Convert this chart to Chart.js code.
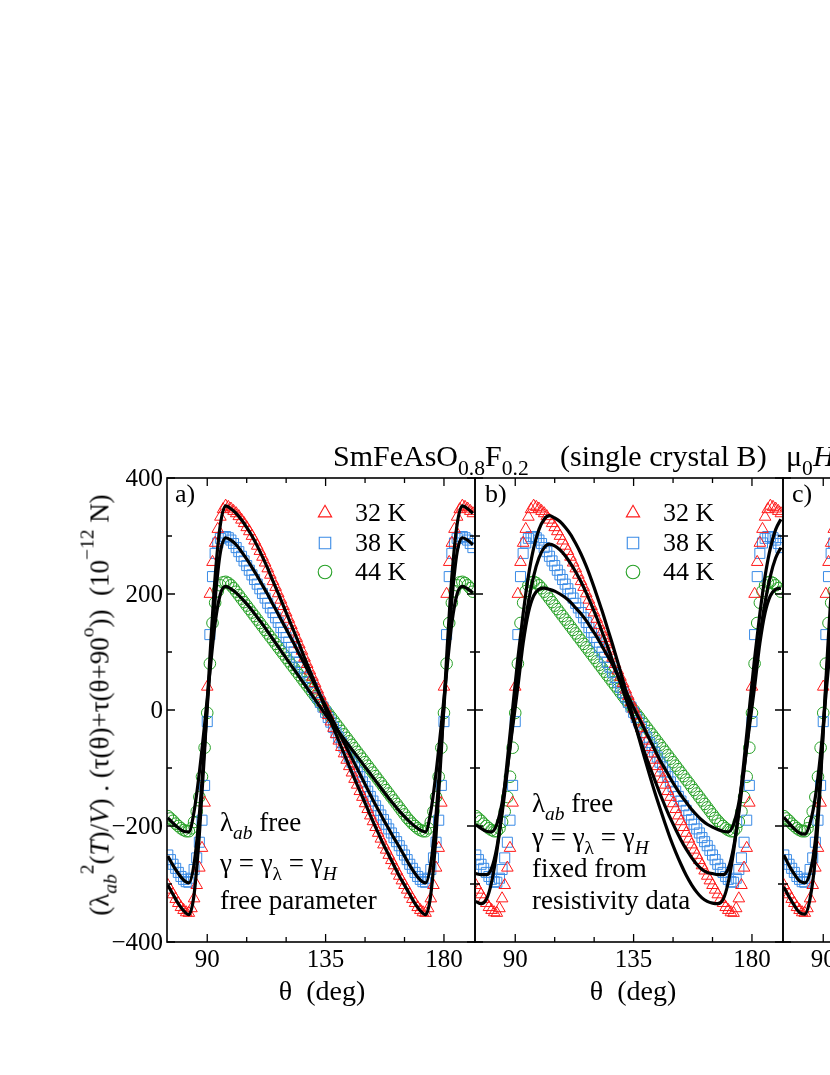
<!DOCTYPE html>
<html>
<head>
<meta charset="utf-8">
<script src="https://cdn.jsdelivr.net/npm/chart.js@4.4.1/dist/chart.umd.min.js"></script>
<style>
  html, body { margin: 0; padding: 0; background: #fff; }
  body { width: 830px; height: 1075px; position: relative; overflow: hidden;
         font-family: "Liberation Serif", "Times New Roman", serif; color: #000; }
  canvas { position: absolute; }
  .t { position: absolute; white-space: nowrap; line-height: 1; }
  .t sub { font-size: 72%; vertical-align: -0.4em; line-height: 0; }
  .t sup { font-size: 72%; vertical-align: 0.75em; line-height: 0; }
  .c { transform: translateX(-50%); }
</style>
</head>
<body>
<canvas id="panelA" width="375" height="530" style="left:110px;top:458px"></canvas>
<canvas id="panelB" width="328" height="530" style="left:465px;top:458px"></canvas>
<canvas id="panelC" width="328" height="530" style="left:773px;top:458px"></canvas>

<div class="t" style="left:333px;top:441px;font-size:30px">SmFeAsO<sub>0.8</sub>F<sub>0.2</sub></div>
<div class="t" style="left:560px;top:441px;font-size:30px">(single crystal B)</div>
<div class="t" style="left:786px;top:441px;font-size:30px">μ<sub>0</sub><i>H</i></div>

<div class="t" style="left:100px;top:705px;font-size:27px;transform:translate(-50%,-50%) rotate(-90deg)">(λ<sub><i>ab</i></sub><sup>2</sup>(<i>T</i>)/<i>V</i>) . (τ(θ)+τ(θ+90<sup>o</sup>))&nbsp;&nbsp;(10<sup>−12</sup> N)</div>

<div class="t" style="left:175px;top:481px;font-size:26px">a)</div>
<div class="t" style="left:485px;top:481px;font-size:26px">b)</div>
<div class="t" style="left:792px;top:481px;font-size:26px">c)</div>

<div class="t" style="left:355px;top:500px;font-size:26px">32 K</div>
<div class="t" style="left:355px;top:530px;font-size:26px">38 K</div>
<div class="t" style="left:355px;top:559px;font-size:26px">44 K</div>
<div class="t" style="left:663px;top:500px;font-size:26px">32 K</div>
<div class="t" style="left:663px;top:530px;font-size:26px">38 K</div>
<div class="t" style="left:663px;top:559px;font-size:26px">44 K</div>

<div class="t" style="left:220px;top:809px;font-size:27px">λ<sub><i>ab</i></sub> free</div>
<div class="t" style="left:220px;top:850px;font-size:27px">γ = γ<sub>λ</sub> = γ<sub><i>H</i></sub></div>
<div class="t" style="left:220px;top:887px;font-size:27px">free parameter</div>

<div class="t" style="left:532px;top:790px;font-size:27px">λ<sub><i>ab</i></sub> free</div>
<div class="t" style="left:532px;top:824px;font-size:27px">γ = γ<sub>λ</sub> = γ<sub><i>H</i></sub></div>
<div class="t" style="left:532px;top:855px;font-size:27px">fixed from</div>
<div class="t" style="left:532px;top:887px;font-size:27px">resistivity data</div>

<div class="t c" style="left:322px;top:977px;font-size:28px">θ&nbsp;&nbsp;(deg)</div>
<div class="t c" style="left:633px;top:977px;font-size:28px">θ&nbsp;&nbsp;(deg)</div>

<script>
// measured angles (deg), 1 deg steps
const theta = [
  75, 76, 77, 78, 79, 80, 81, 82, 83, 84,
  85, 86, 87, 88, 89, 90, 91, 92, 93, 94,
  95, 96, 97, 98, 99, 100, 101, 102, 103, 104,
  105, 106, 107, 108, 109, 110, 111, 112, 113, 114,
  115, 116, 117, 118, 119, 120, 121, 122, 123, 124,
  125, 126, 127, 128, 129, 130, 131, 132, 133, 134,
  135, 136, 137, 138, 139, 140, 141, 142, 143, 144,
  145, 146, 147, 148, 149, 150, 151, 152, 153, 154,
  155, 156, 157, 158, 159, 160, 161, 162, 163, 164,
  165, 166, 167, 168, 169, 170, 171, 172, 173, 174,
  175, 176, 177, 178, 179, 180, 181, 182, 183, 184,
  185, 186, 187, 188, 189, 190, 191
];

// 32 K data (red triangles)
const data32 = [
  -302, -310, -318, -326, -333, -340, -345, -349, -350, -342,
  -325, -302, -272, -238, -160, 40, 200, 255, 288, 312,
  333, 346, 352, 350, 347, 343, 339, 334, 328, 322,
  315, 308, 300, 292, 283, 274, 264, 254, 244, 233,
  222, 212, 201, 190, 179, 168, 157, 146, 135, 124,
  113, 102, 90, 79, 68, 57, 46, 35, 24, 13,
  2, -9, -20, -31, -42, -53, -64, -75, -86, -97,
  -108, -119, -129, -140, -150, -161, -171, -182, -192, -202,
  -212, -222, -232, -241, -250, -259, -268, -277, -286, -294,
  -302, -310, -318, -326, -333, -340, -345, -349, -350, -342,
  -325, -302, -272, -238, -160, 40, 200, 255, 288, 312,
  333, 346, 352, 350, 347, 343, 339
];

// 38 K data (blue squares)
const data38 = [
  -250, -258, -266, -273, -280, -287, -292, -296, -297, -290,
  -275, -255, -228, -190, -130, -20, 130, 230, 270, 288,
  296, 299, 299, 297, 293, 287, 280, 273, 265, 257,
  249, 241, 233, 225, 217, 209, 201, 193, 184, 176,
  168, 159, 151, 142, 134, 125, 117, 108, 100, 91,
  82, 74, 65, 56, 48, 39, 30, 22, 13, 5,
  -4, -13, -21, -30, -39, -47, -56, -64, -73, -81,
  -90, -98, -107, -115, -124, -132, -140, -149, -157, -165,
  -173, -181, -189, -197, -205, -212, -220, -227, -234, -242,
  -250, -258, -266, -273, -280, -287, -292, -296, -297, -290,
  -275, -255, -228, -190, -130, -20, 130, 230, 270, 288,
  296, 299, 299, 297, 293, 287, 280
];

// 44 K data (green circles)
const data44 = [
  -183, -187, -191, -196, -200, -204, -207, -209, -209, -204,
  -193, -175, -150, -115, -65, -5, 80, 150, 185, 205,
  215, 220, 221, 219, 215, 210, 204, 198, 192, 186,
  180, 174, 168, 162, 156, 150, 144, 138, 132, 126,
  120, 114, 108, 102, 96, 90, 84, 78, 72, 66,
  60, 54, 48, 42, 36, 30, 24, 18, 12, 6,
  0, -6, -12, -18, -24, -30, -36, -42, -48, -54,
  -60, -66, -72, -78, -84, -90, -96, -102, -108, -114,
  -120, -126, -132, -138, -144, -150, -156, -162, -168, -174,
  -180, -186, -191, -196, -200, -204, -207, -209, -209, -204,
  -193, -175, -150, -115, -65, -5, 80, 150, 185, 205,
  215, 220, 221, 219, 215, 210, 204
];

// fit curves, 2 deg steps
const thetaFit = [
  75, 77, 79, 81, 83, 85, 87, 89, 91, 93,
  95, 97, 99, 101, 103, 105, 107, 109, 111, 113,
  115, 117, 119, 121, 123, 125, 127, 129, 131, 133,
  135, 137, 139, 141, 143, 145, 147, 149, 151, 153,
  155, 157, 159, 161, 163, 165, 167, 169, 171, 173,
  175, 177, 179, 181, 183, 185, 187, 189, 191
];

// a) gamma free
const fitA32 = [
  -302, -318, -334, -346, -353, -318, -215, -70, 90, 230,
  320, 352, 347, 339, 328, 315, 300, 283, 264, 244,
  222, 201, 179, 157, 135, 113, 90, 68, 46, 24,
  2, -20, -42, -64, -86, -108, -129, -150, -171, -192,
  -212, -232, -250, -268, -286, -302, -318, -334, -346, -353,
  -318, -215, -70, 90, 230, 320, 352, 347, 339
];
const fitA38 = [
  -252, -268, -282, -293, -298, -265, -180, -60, 70, 190,
  272, 297, 293, 285, 273, 260, 246, 231, 215, 199,
  182, 165, 148, 131, 114, 96, 79, 61, 43, 25,
  7, -11, -29, -47, -65, -83, -101, -119, -137, -155,
  -172, -189, -205, -221, -236, -252, -268, -282, -293, -298,
  -265, -180, -60, 70, 190, 272, 297, 293, 285
];
const fitA44 = [
  -186, -195, -203, -209, -210, -175, -108, -25, 65, 150,
  200, 213, 209, 202, 193, 183, 172, 160, 148, 135,
  122, 109, 96, 83, 70, 57, 44, 31, 18, 5,
  -8, -20, -32, -44, -56, -68, -80, -92, -104, -116,
  -128, -140, -152, -163, -174, -184, -193, -201, -207, -210,
  -175, -108, -25, 65, 150, 200, 213, 209, 202
];

// b) gamma fixed from resistivity
const fitB32 = [
  -330, -334, -327, -297, -244, -172, -86, 2, 89, 166,
  231, 279, 311, 329, 335, 331, 325, 315, 303, 287,
  269, 248, 224, 198, 171, 142, 113, 82, 50, 17,
  -16, -48, -80, -111, -141, -169, -196, -222, -245, -266,
  -285, -301, -314, -324, -330, -333, -334, -327, -297, -244,
  -172, -86, 2, 89, 166, 231, 279, 311, 329
];
const fitB38 = [
  -282, -284, -284, -273, -237, -178, -104, -23, 56, 127,
  186, 231, 262, 280, 286, 283, 276, 266, 253, 238,
  221, 202, 181, 159, 135, 111, 85, 59, 33, 7,
  -19, -45, -71, -96, -120, -144, -166, -187, -206, -224,
  -240, -254, -266, -275, -280, -282, -284, -284, -273, -237,
  -178, -104, -23, 56, 127, 186, 231, 262, 280
];
const fitB44 = [
  -198, -204, -209, -210, -197, -160, -100, -30, 40, 115,
  168, 197, 208, 210, 208, 205, 200, 194, 186, 176,
  166, 154, 140, 126, 110, 94, 78, 60, 42, 23,
  4, -14, -32, -50, -68, -86, -102, -118, -133, -147,
  -159, -171, -181, -190, -197, -202, -206, -209, -210, -197,
  -160, -100, -30, 40, 115, 168, 197, 208, 210
];

// c) only the left edge is visible
const thetaC = [75, 77, 79, 81, 83, 85, 87, 89, 91, 93, 95];
const fitC32 = [-305, -322, -337, -349, -352, -325, -255, -120, 50, 200, 300];
const fitC38 = [-250, -268, -283, -295, -298, -280, -225, -110, 40, 170, 255];
const fitC44 = [-185, -195, -205, -212, -214, -195, -150, -75, 25, 120, 185];

// axis ticks
const xMajor = [90, 135, 180];
const xMinor = [105, 120, 150, 165];
const yMajor = [-400, -200, 0, 200, 400];
const yMinor = [-300, -100, 100, 300];

const RED = '#ff1a1a', BLUE = '#3a8be6', GREEN = '#25a025';
const series = [
  { ys: data32, color: RED, style: 'triangle', r: 6.7 },
  { ys: data38, color: BLUE, style: 'rect', r: 7.1 },
  { ys: data44, color: GREEN, style: 'circle', r: 5.8 }
];

function pts(xs, ys) {
  return xs.map((v, i) => ({ x: v, y: ys[i] }));
}

// frame, inward ticks, tick labels and legend markers
const framePlugin = {
  id: 'frame',
  afterDatasetsDraw(chart, args, opts) {
    const { ctx, chartArea: a } = chart;
    const xs = chart.scales.x, ys = chart.scales.y;
    ctx.save();
    ctx.strokeStyle = '#000';
    ctx.lineWidth = 1.6;
    ctx.strokeRect(a.left, a.top, a.right - a.left, a.bottom - a.top);

    ctx.lineWidth = 1.3;
    ctx.beginPath();
    const xt = (v, len) => {
      const p = xs.getPixelForValue(v);
      ctx.moveTo(p, a.bottom); ctx.lineTo(p, a.bottom - len);
      ctx.moveTo(p, a.top); ctx.lineTo(p, a.top + len);
    };
    const yt = (v, len) => {
      const p = ys.getPixelForValue(v);
      ctx.moveTo(a.left, p); ctx.lineTo(a.left + len, p);
      ctx.moveTo(a.right, p); ctx.lineTo(a.right - len, p);
    };
    xMajor.forEach(v => xt(v, 8));
    xMinor.forEach(v => xt(v, 5));
    yMajor.forEach(v => yt(v, 8));
    yMinor.forEach(v => yt(v, 5));
    ctx.stroke();

    ctx.fillStyle = '#000';
    ctx.font = '25px "Liberation Serif"';
    ctx.textAlign = 'center';
    ctx.textBaseline = 'alphabetic';
    xMajor.forEach(v => ctx.fillText(String(v), xs.getPixelForValue(v), a.bottom + 25));
    if (opts.yLabels) {
      ctx.textAlign = 'right';
      ctx.textBaseline = 'middle';
      yMajor.forEach(v => {
        const s = v < 0 ? '\u2212' + Math.abs(v) : String(v);
        ctx.fillText(s, a.left - 4, ys.getPixelForValue(v) + 1);
      });
    }
    if (opts.legend) {
      const lx = a.left + 158;
      [35, 65, 94].forEach((dy, i) => {
        const s = series[i];
        ctx.strokeStyle = s.color;
        ctx.fillStyle = 'rgba(0,0,0,0)';
        ctx.lineWidth = 1.1;
        Chart.helpers.drawPoint(ctx, { pointStyle: s.style, radius: s.r + 1, borderWidth: 1.1, rotation: 0 }, lx, a.top + dy);
      });
    }
    ctx.restore();
  }
};

function makePanel(id, fitX, fits, pad, opts) {
  const datasets = [];
  fits.forEach(f => datasets.push({
    data: pts(fitX, f), showLine: true, borderColor: '#000', borderWidth: 3.2,
    pointRadius: 0, cubicInterpolationMode: 'monotone', order: 0, clip: 0
  }));
  series.forEach(s => datasets.push({
    data: pts(theta, s.ys), showLine: false, pointStyle: s.style, pointRadius: s.r,
    borderColor: s.color, backgroundColor: 'rgba(0,0,0,0)', borderWidth: 1, order: 1, clip: 0
  }));
  new Chart(document.getElementById(id), {
    type: 'scatter',
    data: { datasets },
    options: {
      responsive: false, animation: false, devicePixelRatio: 1, events: [],
      layout: { padding: pad },
      plugins: { legend: { display: false }, tooltip: { enabled: false }, frame: opts },
      scales: {
        x: { type: 'linear', min: 74.7, max: 191.8, display: false },
        y: { type: 'linear', min: -400, max: 400, display: false }
      }
    },
    plugins: [framePlugin]
  });
}

makePanel('panelA', thetaFit, [fitA32, fitA38, fitA44],
  { left: 57, right: 10, top: 20, bottom: 46 }, { yLabels: true, legend: true });
makePanel('panelB', thetaFit, [fitB32, fitB38, fitB44],
  { left: 10, right: 10, top: 20, bottom: 46 }, { yLabels: false, legend: true });
makePanel('panelC', thetaC, [fitC32, fitC38, fitC44],
  { left: 10, right: 10, top: 20, bottom: 46 }, { yLabels: false, legend: false });
</script>
</body>
</html>
